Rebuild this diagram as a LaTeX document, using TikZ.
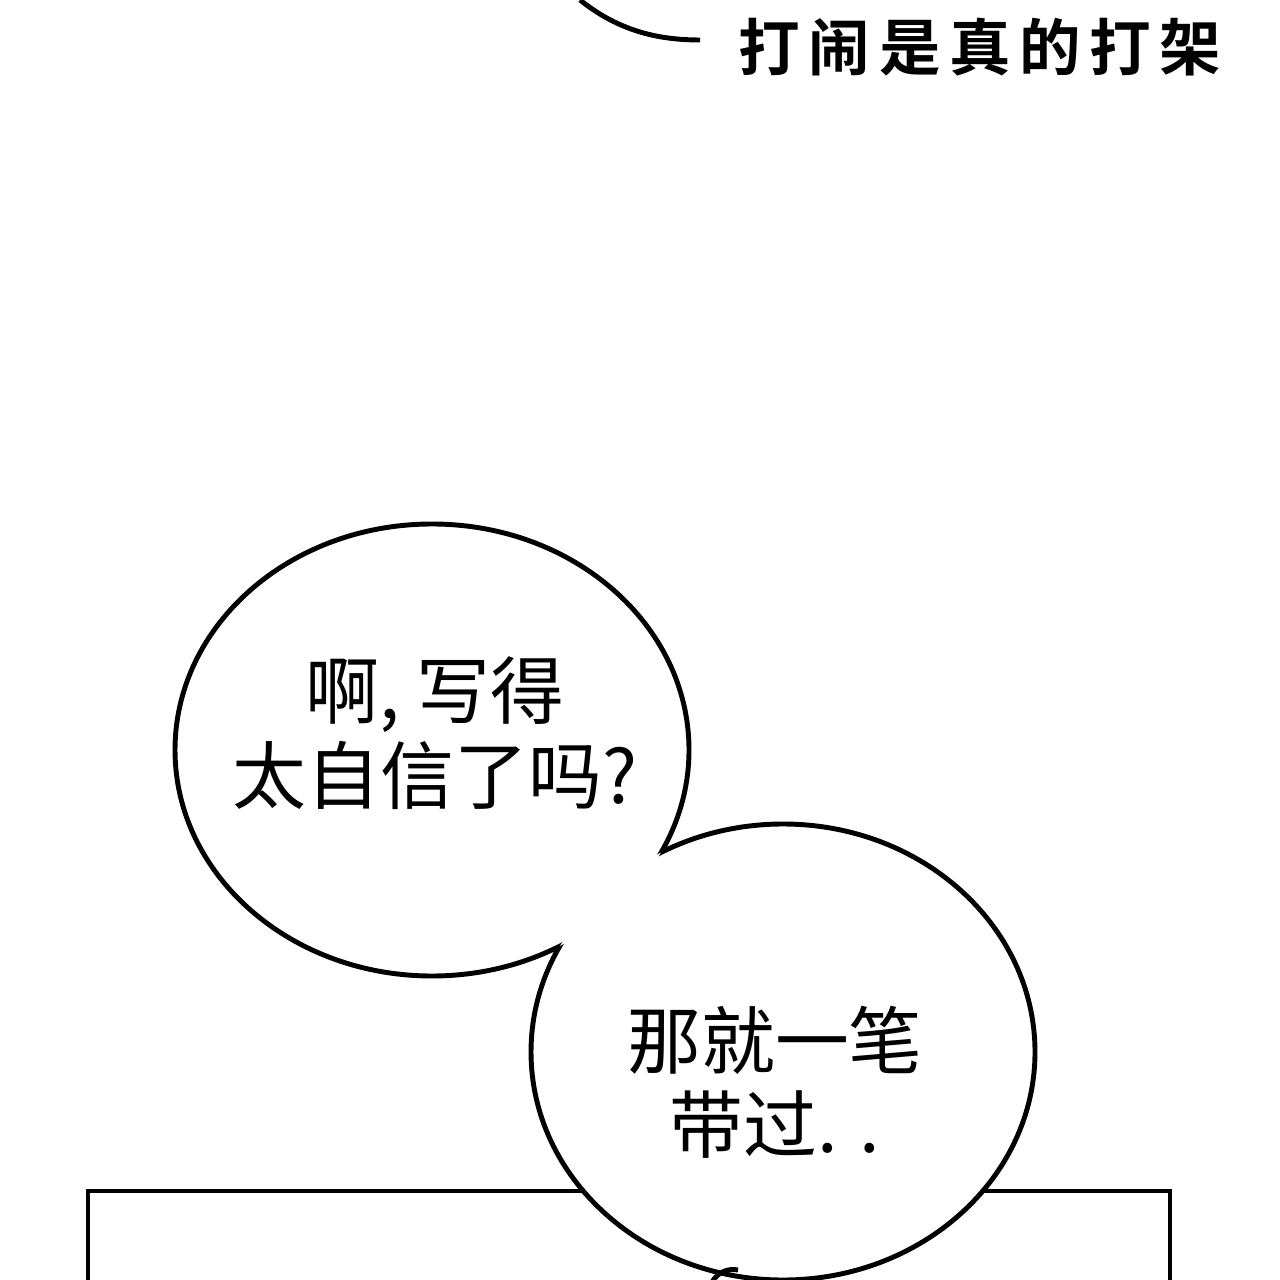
\documentclass[tikz,border=0pt]{standalone}
\usepackage{fontspec}
\newfontfamily\cjk{Noto Sans CJK SC}
\newfontfamily\cjkbold[LetterSpace=14]{Noto Sans CJK SC Bold}
\tikzset{
    talk/.style={font=\cjk\fontsize{21}{24}\selectfont, align=center, inner sep=0pt},
    edge/.style={draw=black, line width=1.4pt}
}
\begin{document}
\begin{tikzpicture}[x=0.01cm, y=-0.01cm]
    \useasboundingbox[fill=white] (0,0) rectangle (1280,1280);
    % top bubble end and caption
    \draw[edge] (580,0) .. controls (620,32) and (660,40) .. (700,40);
    \node[font=\cjkbold\fontsize{17.5}{20}\selectfont, inner sep=0pt] (shout) at (980,47) {打闹是真的打架};
    % panel frame
    \draw[edge] (88,1285) -- (88,1191) -- (1170,1191) -- (1170,1285);
    % two joined bubbles
    \fill[white] (432,750) ellipse [x radius=257, y radius=226];
    \fill[white] (783,1052) ellipse [x radius=252, y radius=228];
    \begin{scope}[even odd rule]
        \clip (0,0) rectangle (1280,1300) (783,1052) ellipse [x radius=252, y radius=228];
        \draw[edge] (432,750) ellipse [x radius=257, y radius=226];
    \end{scope}
    \begin{scope}[even odd rule]
        \clip (0,0) rectangle (1280,1300) (432,750) ellipse [x radius=257, y radius=226];
        \draw[edge] (783,1052) ellipse [x radius=252, y radius=228];
    \end{scope}
    \draw[edge] (712,1282) .. controls (718,1272) and (728,1268) .. (738,1270);
    \node[talk] (first) at (435,733) {啊, 写得\\太自信了吗?};
    \node[talk] (second) at (775,1082) {那就一笔\\带过. .};
\end{tikzpicture}
\end{document}
